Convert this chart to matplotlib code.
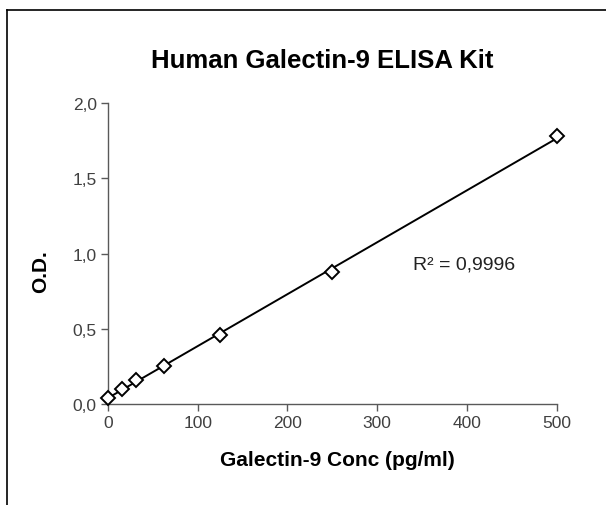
import matplotlib.pyplot as plt
import numpy as np
from matplotlib.ticker import FuncFormatter
from matplotlib.lines import Line2D

plt.rcParams['font.family'] = ['Liberation Sans', 'DejaVu Sans']

# standard curve values
conc = [0, 15.6, 31.25, 62.5, 125, 250, 500]
od = [0.04, 0.10, 0.16, 0.25, 0.46, 0.88, 1.78]
r2_label = "R² = 0,9996"

x_ticks = [0, 100, 200, 300, 400, 500]
y_ticks = [0.0, 0.5, 1.0, 1.5, 2.0]

fig = plt.figure(figsize=(6.06, 5.06), dpi=100)
ax = fig.add_axes([0.178, 0.2, 0.741, 0.594])

# linear trendline
slope, intercept = np.polyfit(conc, od, 1)
fit_x = np.array([min(conc), max(conc)])
ax.plot(fit_x, slope * fit_x + intercept, color='black', lw=1.4, zorder=2)
ax.plot(conc, od, linestyle='none', marker='D', markersize=7.5,
        markerfacecolor='white', markeredgecolor='black', markeredgewidth=1.4,
        zorder=3, clip_on=False)

ax.set_xlim(0, 500)
ax.set_ylim(0, 2.0)
ax.set_xticks(x_ticks)
ax.set_yticks(y_ticks)
ax.yaxis.set_major_formatter(FuncFormatter(lambda v, p: f"{v:.1f}".replace('.', ',')))
ax.spines['top'].set_visible(False)
ax.spines['right'].set_visible(False)
for s in ('left', 'bottom'):
    ax.spines[s].set_color('#595959')
    ax.spines[s].set_linewidth(1.0)
ax.tick_params(direction='out', length=5, width=1.0, color='#595959',
               labelsize=12.5, labelcolor='#404040', pad=3)

ax.set_xlabel("Galectin-9 Conc (pg/ml)", fontsize=15, fontweight='bold')
ax.xaxis.set_label_coords(0.512, -0.155)
ax.set_ylabel("O.D.", fontsize=15, fontweight='bold')
ax.yaxis.set_label_coords(-0.129, 0.443)
ax.text(340, 0.93, r2_label, fontsize=14, color='#222222', va='center', ha='left')

fig.text(0.531, 1 - 61 / 506, "Human Galectin-9 ELISA Kit", fontsize=18.5, fontweight='bold',
         ha='center', va='center')

# frame around chart area (top and left edges visible)
fig.add_artist(Line2D([7 / 606, 1.0], [1 - 11 / 506, 1 - 11 / 506], color='black', lw=1.2,
                      transform=fig.transFigure))
fig.add_artist(Line2D([7 / 606, 7 / 606], [1 - 11 / 506, 0.0], color='black', lw=1.2,
                      transform=fig.transFigure))

fig.savefig("out.png", dpi=100)
